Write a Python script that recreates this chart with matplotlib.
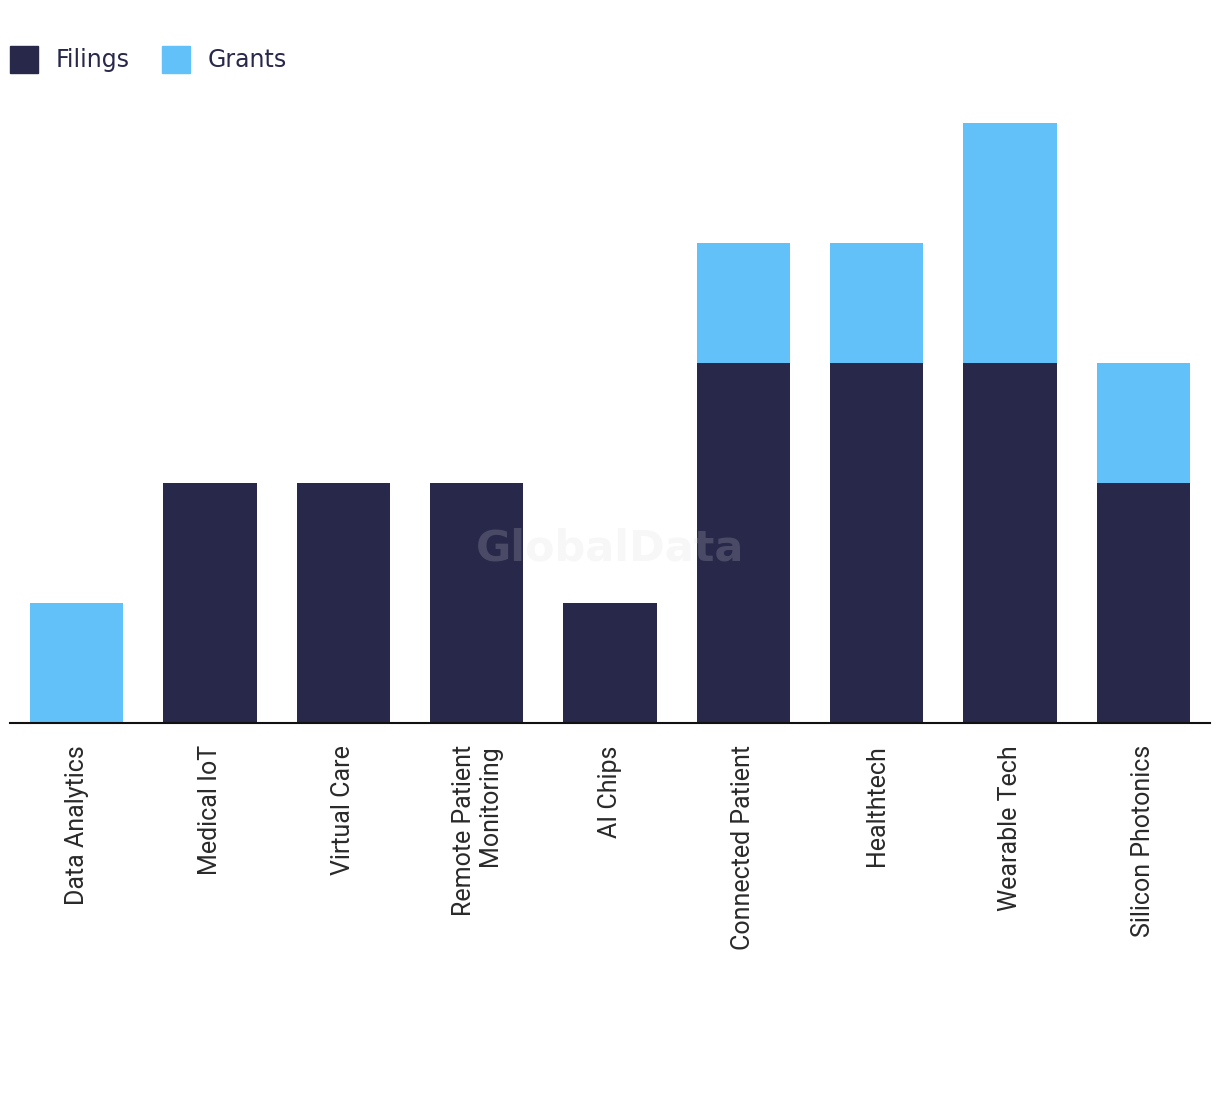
import numpy as np
import matplotlib.pyplot as plt
from matplotlib.patches import Patch

categories = ['Data Analytics', 'Medical IoT', 'Virtual Care', 'Remote Patient\nMonitoring',
              'AI Chips', 'Connected Patient', 'Healthtech', 'Wearable Tech', 'Silicon Photonics']
filings = [0, 2, 2, 2, 1, 3, 3, 3, 2]
grants = [1, 0, 0, 0, 0, 1, 1, 2, 1]

navy = '#27284a'
blue = '#62c1f9'

fig = plt.figure(figsize=(12.2, 10.94), dpi=100)
ax = fig.add_axes([10 / 1220, 371 / 1094, 1200 / 1220, 624 / 1094])

x = np.arange(len(categories))
ax.bar(x, filings, width=0.7, color=navy, zorder=2)
ax.bar(x, grants, width=0.7, bottom=filings, color=blue, zorder=2)

ax.set_xlim(-0.5, len(categories) - 0.5)
ax.set_ylim(0, 5.2)
ax.set_xticks(x)
ax.set_xticklabels(categories, rotation=90, fontsize=18, family='Roboto',
                   color='#2a2a2a', ha='center', va='top', multialignment='right',
                   linespacing=1.1)
ax.tick_params(axis='x', length=0, pad=16)
ax.set_yticks([])
for s in ['top', 'right', 'left']:
    ax.spines[s].set_visible(False)
ax.spines['bottom'].set_linewidth(1.5)
ax.spines['bottom'].set_color('#111111')

# watermark
ax.text(0.5, 0.28, 'GlobalData', transform=ax.transAxes, ha='center', va='center',
        fontsize=31, fontweight='bold', color='#d7d7d7', alpha=0.2, zorder=5)

handles = [Patch(color=navy, label='Filings'), Patch(color=blue, label='Grants')]
fig.legend(handles=handles, loc='upper left', bbox_to_anchor=(0.008, 0.958), ncol=2, frameon=False,
           fontsize=17, handlelength=1.2, handleheight=1.4, handletextpad=0.75,
           columnspacing=1.35, borderaxespad=0, borderpad=0, labelcolor=navy)

fig.savefig('out.png', dpi=100)
